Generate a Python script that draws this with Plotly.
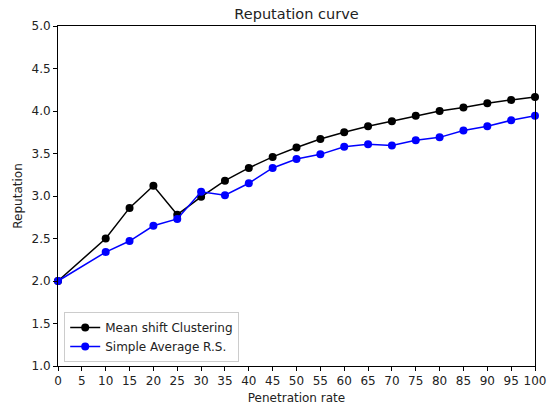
import plotly.graph_objects as go

penetration = [0, 10, 15, 20, 25, 30, 35, 40, 45, 50, 55, 60, 65, 70, 75, 80, 85, 90, 95, 100]
mean_shift = [2.00, 2.50, 2.86, 3.12, 2.78, 2.99, 3.18, 3.33, 3.46, 3.57, 3.67, 3.75, 3.82, 3.88, 3.945, 4.00, 4.04, 4.09, 4.13, 4.165]
simple_avg = [2.00, 2.34, 2.47, 2.65, 2.73, 3.05, 3.01, 3.15, 3.33, 3.435, 3.49, 3.58, 3.61, 3.595, 3.655, 3.69, 3.77, 3.82, 3.89, 3.945]
x_ticks = list(range(0, 101, 5))
y_ticks = [1.0, 1.5, 2.0, 2.5, 3.0, 3.5, 4.0, 4.5, 5.0]

font = "DejaVu Sans"
fig = go.Figure()
fig.add_trace(go.Scatter(x=penetration, y=mean_shift, mode="lines+markers",
                         name="Mean shift Clustering",
                         line=dict(color="black", width=1.5),
                         marker=dict(color="black", size=8), cliponaxis=False))
fig.add_trace(go.Scatter(x=penetration, y=simple_avg, mode="lines+markers",
                         name="Simple Average R.S.",
                         line=dict(color="blue", width=1.5),
                         marker=dict(color="blue", size=8), cliponaxis=False))

axis_common = dict(showline=True, linecolor="black", linewidth=1, mirror=True,
                   ticks="outside", ticklen=4, tickcolor="black", showgrid=False,
                   zeroline=False, automargin=False,
                   tickfont=dict(family=font, size=12, color="#222"))
fig.update_layout(
    width=551, height=405,
    margin=dict(l=58, r=16, t=26, b=39),
    paper_bgcolor="white", plot_bgcolor="white",
    font=dict(family=font, color="#222"),
    title=dict(text="Reputation curve", x=(58 + 535) / 2 / 551, xanchor="center",
               y=1 - 14 / 405, yanchor="middle", font=dict(size=14.5, family=font)),
    xaxis=dict(range=[0, 100], tickvals=x_ticks, ticktext=[str(t) for t in x_ticks],
               title=dict(text="Penetration rate", font=dict(size=12), standoff=6),
               **axis_common),
    yaxis=dict(range=[1.0, 5.0], tickvals=y_ticks, ticktext=[f"{t:.1f}" for t in y_ticks],
               title=dict(text="Reputation", font=dict(size=12), standoff=6),
               **axis_common),
    legend=dict(x=0.013, y=0.012, xanchor="left", yanchor="bottom",
                bordercolor="#cccccc", borderwidth=1, bgcolor="rgba(255,255,255,0.8)",
                font=dict(size=12, family=font), tracegroupgap=0, itemwidth=30),
    showlegend=True,
)
fig.write_html("out.html")
